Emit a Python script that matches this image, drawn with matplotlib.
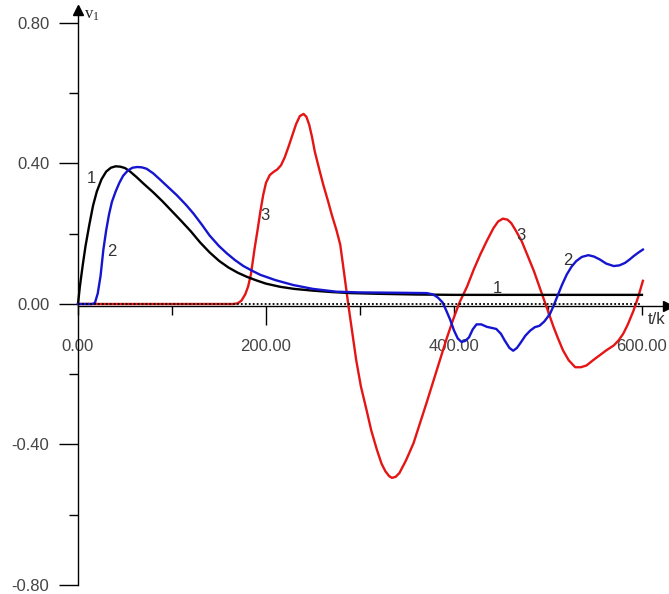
import matplotlib
matplotlib.use("Agg")
import matplotlib.pyplot as plt
from matplotlib.ticker import FixedLocator

# ---- data ----
t1 = [0, 2, 5, 8, 12, 16, 20, 25, 30, 35, 40, 45, 50, 55, 62, 70, 80, 90, 100, 110,
      120, 130, 140, 150, 160, 170, 180, 190, 200, 215, 230, 250, 270, 290, 320, 360, 400, 600]
v1 = [0.0, 0.05, 0.11, 0.165, 0.225, 0.28, 0.32, 0.355, 0.377, 0.388, 0.392, 0.391, 0.387,
      0.378, 0.362, 0.342, 0.318, 0.292, 0.264, 0.236, 0.207, 0.175, 0.147, 0.123, 0.104, 0.089,
      0.077, 0.067, 0.058, 0.049, 0.043, 0.038, 0.034, 0.031, 0.029, 0.027, 0.026, 0.026]

t2 = [0, 15, 18, 21, 24, 27, 30, 33, 36, 40, 44, 48, 53, 58, 63, 68, 73, 80, 87, 95, 105,
      115, 123, 132, 140, 150, 158, 167, 176, 185, 194, 210, 229, 250, 275, 300, 340, 371,
      378, 383, 388, 392, 396, 400, 404, 408, 412, 416, 420, 424, 429, 435, 440, 445, 450,
      454, 459, 463, 467, 471, 476, 481, 486, 491, 496, 502, 506, 510, 515, 520, 525, 530,
      536, 543, 549, 555, 562, 570, 576, 582, 587, 591, 596, 601]
v2 = [0, 0, 0.003, 0.03, 0.08, 0.155, 0.21, 0.255, 0.29, 0.32, 0.345, 0.365, 0.38, 0.388,
      0.39, 0.389, 0.385, 0.372, 0.355, 0.335, 0.31, 0.282, 0.257, 0.225, 0.195, 0.165,
      0.145, 0.125, 0.108, 0.095, 0.083, 0.068, 0.054, 0.043, 0.035, 0.033, 0.032, 0.031,
      0.027, 0.018, 0.004, -0.02, -0.045, -0.075, -0.098, -0.108, -0.105, -0.095, -0.072,
      -0.058, -0.058, -0.065, -0.068, -0.071, -0.085, -0.104, -0.125, -0.133, -0.125, -0.11,
      -0.09, -0.076, -0.066, -0.062, -0.05, -0.029, -0.005, 0.022, 0.055, 0.084, 0.106,
      0.122, 0.134, 0.139, 0.135, 0.127, 0.115, 0.108, 0.11, 0.117, 0.127, 0.136, 0.146, 0.155]

t3 = [0, 165, 170, 174, 178, 181, 184, 188, 191, 194, 197, 200, 204, 208, 212, 216, 220,
      224, 228, 232, 236, 240, 243, 246, 249, 252, 257, 261, 266, 270, 275, 279, 282, 285,
      288, 292, 296, 301, 307, 312, 318, 323, 327, 331, 334, 338, 342, 349, 357, 364, 371,
      378, 385, 392, 399, 406, 414, 421, 428, 435, 442, 447, 452, 457, 461, 466, 472, 478,
      485, 490, 495, 500, 506, 511, 516, 522, 529, 535, 541, 548, 555, 562, 570, 575, 580,
      585, 591, 596, 601]
v3 = [0, 0, 0.002, 0.01, 0.028, 0.05, 0.085, 0.16, 0.21, 0.263, 0.31, 0.345, 0.367, 0.376,
      0.383, 0.395, 0.418, 0.448, 0.48, 0.512, 0.535, 0.541, 0.533, 0.51, 0.475, 0.433, 0.38,
      0.339, 0.293, 0.254, 0.21, 0.169, 0.11, 0.05, -0.01, -0.085, -0.16, -0.235, -0.302,
      -0.36, -0.415, -0.455, -0.476, -0.49, -0.495, -0.492, -0.481, -0.445, -0.396, -0.338,
      -0.28, -0.22, -0.16, -0.1, -0.045, 0.005, 0.05, 0.098, 0.141, 0.18, 0.216, 0.235,
      0.243, 0.24, 0.23, 0.208, 0.179, 0.14, 0.094, 0.056, 0.018, -0.02, -0.066, -0.1,
      -0.132, -0.16, -0.18, -0.18, -0.175, -0.16, -0.146, -0.132, -0.118, -0.104, -0.085,
      -0.058, -0.019, 0.02, 0.066]

x_major = [0, 200, 400, 600]
x_minor = [100, 300, 500]
x_labels = ["0.00", "200.00", "400.00", "600.00"]
y_major = [-0.8, -0.4, 0.0, 0.4, 0.8]
y_minor = [-0.6, -0.2, 0.2, 0.6]
y_labels = ["-0.80", "-0.40", "0.00", "0.40", "0.80"]

curve_labels = [("1", 13.8, 0.357), ("2", 36, 0.149), ("3", 199, 0.252),
                ("1", 446, 0.044), ("3", 471, 0.195), ("2", 521, 0.124)]

plt.rcParams['font.family'] = ['Liberation Sans', 'DejaVu Sans']

W, H = 669, 594
fig = plt.figure(figsize=(W / 100, H / 100), dpi=100)
ax = fig.add_axes([78 / W, 9 / H, 590 / W, 575 / H])
ax.set_xlim(0, 627.7)
ax.set_ylim(-0.8, 0.837)

xaxis_y = -0.006
for s in ['top', 'right']:
    ax.spines[s].set_visible(False)
ax.spines['left'].set_position(('data', 0))
ax.spines['bottom'].set_position(('data', xaxis_y))
ax.spines['left'].set_linewidth(1.0)
ax.spines['bottom'].set_linewidth(1.0)

tick_col = '#444444'
ax.yaxis.set_major_locator(FixedLocator(y_major))
ax.yaxis.set_minor_locator(FixedLocator(y_minor))
ax.set_yticklabels(y_labels)
ax.tick_params(axis='y', which='major', direction='out', length=13.7, width=1.0, pad=7,
               labelsize=12, labelcolor=tick_col)
ax.tick_params(axis='y', which='minor', direction='out', length=6.5, width=1.0)

ax.xaxis.set_major_locator(FixedLocator(x_major))
ax.xaxis.set_minor_locator(FixedLocator(x_minor))
ax.set_xticklabels(x_labels)
ax.tick_params(axis='x', which='major', direction='out', length=6.5, width=1.0, pad=17,
               labelsize=12, labelcolor=tick_col)
ax.tick_params(axis='x', which='minor', direction='out', length=6.5, width=1.0)
# the 200 tick is drawn longer in the reference
ax.xaxis.get_major_ticks()[1].tick1line.set_markersize(14)

# curves
ax.plot(t3, v3, color='#e51515', lw=1.7, zorder=3, clip_on=False, solid_joinstyle='round')
ax.plot(t1, v1, color='black', lw=1.7, zorder=4, clip_on=False, solid_joinstyle='round')
ax.plot(t2, v2, color='#1515d0', lw=1.7, zorder=5, clip_on=False, solid_joinstyle='round')

# dotted zero reference line
ax.plot([0, 600], [0, 0], color='black', lw=1.3, ls=(0, (1, 1.2)), zorder=6)

# axis arrows
ax.plot([627.7], [xaxis_y], marker='>', color='black', ms=7, clip_on=False, zorder=7)
ax.plot([0], [0.837], marker='^', color='black', ms=7, clip_on=False, zorder=7)

for txt, x, y in curve_labels:
    ax.text(x, y, txt, fontsize=12, color='#333333', ha='center', va='center', zorder=8)

ax.text(6, 0.823, r'$\mathregular{v_1}$', fontsize=12, family='Liberation Serif',
        ha='left', va='center', color='#222222')
ax.text(616, -0.044, 't/k', fontsize=12, ha='center', va='center', color='#333333')

fig.savefig('out.png', dpi=100)
